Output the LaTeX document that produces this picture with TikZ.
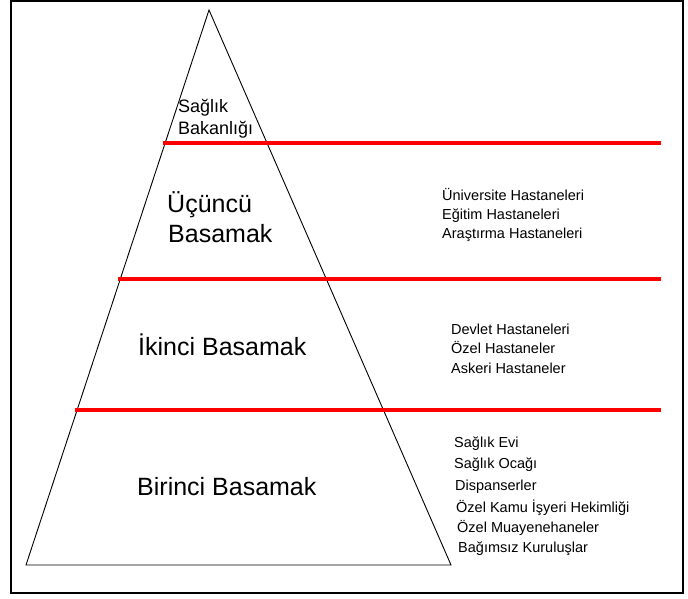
\documentclass[tikz,border=0pt]{standalone}
\usepackage{fontspec}
\setmainfont{Liberation Sans}
\usetikzlibrary{calc}
\begin{document}
\begin{tikzpicture}[x=1pt,y=-1pt,
  frame/.style={draw=black,line width=2pt},
  tri/.style={draw=black,line width=0.9pt},
  sepline/.style={draw=red,line width=4pt},
  big/.style={anchor=base west,inner sep=0pt,font=\fontsize{25}{30}\selectfont},
  toplabel/.style={anchor=base west,inner sep=0pt,font=\fontsize{18}{22}\selectfont},
  item/.style={anchor=base west,inner sep=0pt,font=\fontsize{14.5}{17}\selectfont}]
\useasboundingbox (0,0) rectangle (688,599);
\draw[frame] (10.5,1.5) rectangle (682.5,592.5);
% pyramid
\coordinate (apex) at (209,10);
\coordinate (bl) at (26,565);
\coordinate (br) at (451,565);
\draw[tri] (apex) -- (bl) -- (br) -- cycle;
% separators
\coordinate (l1) at ($(apex)!0.2396!(bl)+(-2,0)$);
\coordinate (l2) at ($(apex)!0.4847!(bl)+(-2,0)$);
\coordinate (l3) at ($(apex)!0.7207!(bl)+(-2,0)$);
\coordinate (r1) at (661,0 |- l1);
\coordinate (r2) at (661,0 |- l2);
\coordinate (r3) at (661,0 |- l3);
\draw[sepline] (l1) -- (r1);
\draw[sepline] (l2) -- (r2);
\draw[sepline] (l3) -- (r3);
% level labels
\node[toplabel] (sb1) at (178,113) {Sağlık};
\node[toplabel] (sb2) at (178,135) {Bakanlığı};
\node[big] (u1) at (167,212) {Üçüncü};
\node[big] (u2) at (168,242) {Basamak};
\node[big] (ik) at (138,355) {İkinci Basamak};
\node[big] (bi) at (137,495) {Birinci Basamak};
% lists
\node[item] (a1) at (442,200) {Üniversite Hastaneleri};
\node[item] (a2) at (442,219) {Eğitim Hastaneleri};
\node[item] (a3) at (442,238) {Araştırma Hastaneleri};
\node[item] (b1) at (451,334) {Devlet Hastaneleri};
\node[item] (b2) at (451,353) {Özel Hastaneler};
\node[item] (b3) at (451,373) {Askeri Hastaneler};
\node[item] (c1) at (454,447) {Sağlık Evi};
\node[item] (c2) at (454,468) {Sağlık Ocağı};
\node[item] (c3) at (455,490) {Dispanserler};
\node[item] (c4) at (456,512) {Özel Kamu İşyeri Hekimliği};
\node[item] (c5) at (457,532) {Özel Muayenehaneler};
\node[item] (c6) at (458,552) {Bağımsız Kuruluşlar};
\end{tikzpicture}
\end{document}
